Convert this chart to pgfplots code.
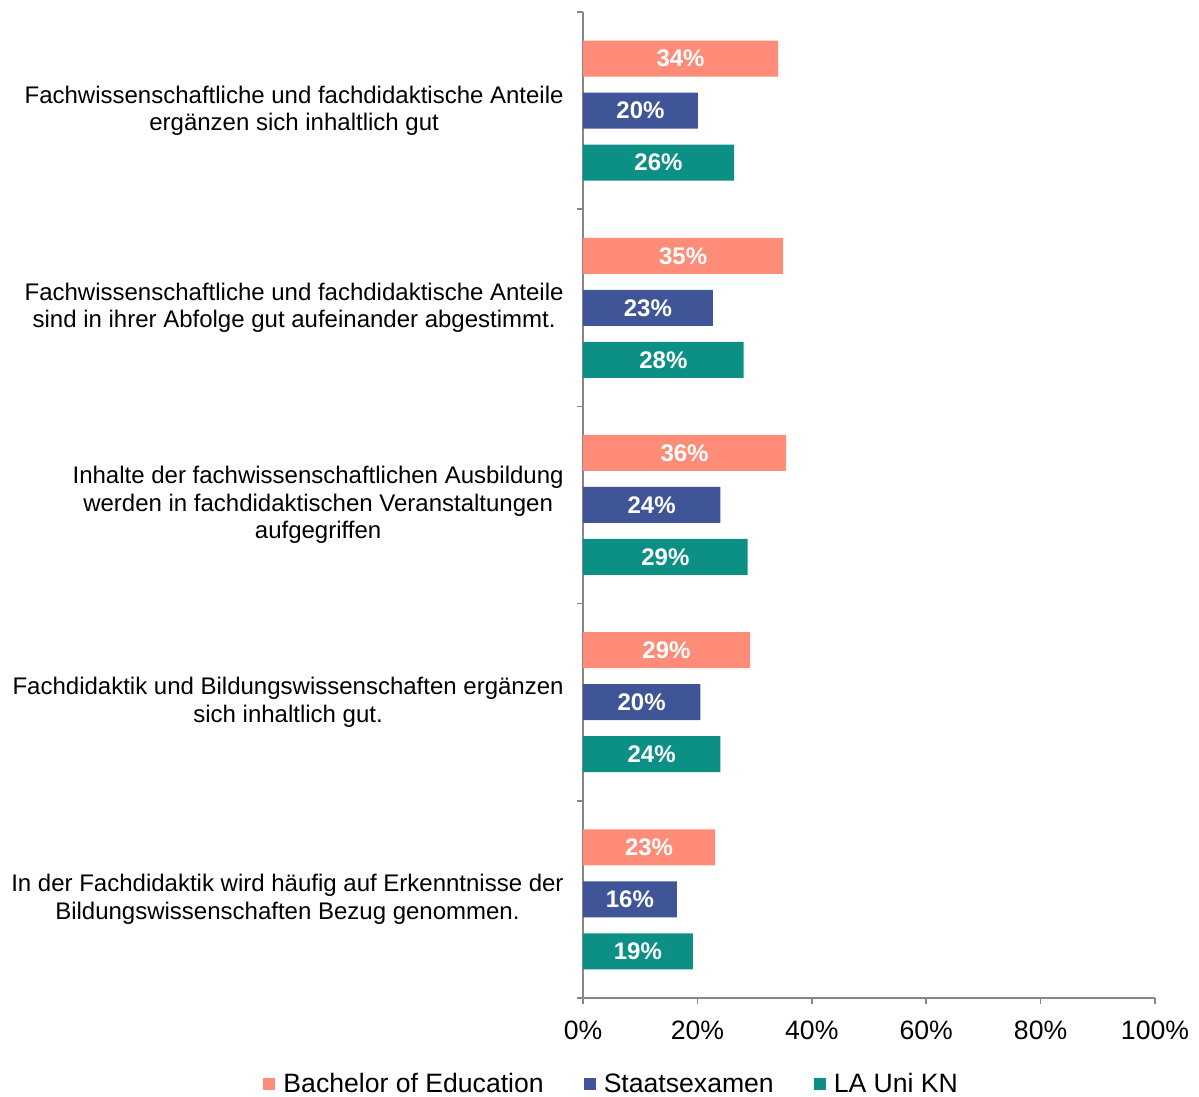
\documentclass[border=0pt]{standalone}
\usepackage{pgfplots}
\pgfplotsset{compat=1.18}
\usepackage{pgfplotstable}
\usepackage{fontspec}
\setmainfont{Liberation Sans}
\definecolor{cpink}{HTML}{FF8C78}
\definecolor{cblue}{HTML}{3F5597}
\definecolor{cteal}{HTML}{0C9085}
\definecolor{caxis}{HTML}{878787}

\pgfplotstableread{
y v lab
4 34.1 34
3 35.0 35
2 35.5 36
1 29.2 29
0 23.1 23
}\bachelor
\pgfplotstableread{
y v lab
4 20.1 20
3 22.7 23
2 24.0 24
1 20.5 20
0 16.4 16
}\staats
\pgfplotstableread{
y v lab
4 26.4 26
3 28.1 28
2 28.8 29
1 24.0 24
0 19.2 19
}\launi

\begin{document}
\begin{tikzpicture}
\useasboundingbox (-291.5pt,-49.5pt) rectangle (308pt,499pt);
\begin{axis}[
  at={(0,0)}, anchor=south west,
  scale only axis,
  width=286pt, height=493pt,
  xbar, bar width=18pt,
  xmin=0, xmax=100,
  ymin=-0.5, ymax=4.5,
  axis lines*=left,
  axis line style={caxis, line width=0.8pt},
  tick align=outside,
  tick style={caxis, line width=0.8pt},
  major tick length=3pt,
  xtick={0,20,...,100},
  xticklabels={0\%,20\%,40\%,60\%,80\%,100\%},
  xticklabel style={font=\fontsize{13.3}{16}\selectfont, yshift=-5pt},
  ytick={-0.5,0.5,1.5,2.5,3.5,4.5},
  yticklabels={},
  extra y ticks={0,1,2,3,4},
  extra y tick style={major tick length=0pt},
  extra y tick labels={
    {In der Fachdidaktik wird häufig auf Erkenntnisse der\\Bildungswissenschaften Bezug genommen.},
    {Fachdidaktik und Bildungswissenschaften ergänzen\\sich inhaltlich gut.},
    {Inhalte der fachwissenschaftlichen Ausbildung\\werden in fachdidaktischen Veranstaltungen\\aufgegriffen},
    {Fachwissenschaftliche und fachdidaktische Anteile\\sind in ihrer Abfolge gut aufeinander abgestimmt.},
    {Fachwissenschaftliche und fachdidaktische Anteile\\ergänzen sich inhaltlich gut}
  },
  yticklabel style={align=center, font=\fontsize{12}{13.7}\selectfont, inner sep=0pt, xshift=-9.5pt},
  point meta=explicit symbolic,
  nodes near coords={\pgfplotspointmeta\%},
  visualization depends on={\thisrow{v} \as \xv},
  every node near coord/.append style={anchor=center, text=white, font=\fontsize{12}{14}\selectfont\bfseries, xshift={-1.43pt*\xv}},
  legend style={at={(0.052,-0.0875)}, anchor=center, draw=none, fill=none,
    legend columns=3, font=\fontsize{13.3}{16}\selectfont,
    /tikz/every even column/.append style={column sep=18pt},
    legend cell align=left, inner sep=0pt},
]
\addplot[draw=none, fill=cpink, bar shift=26pt,
  legend image code/.code={\fill[cpink] (0pt,-3pt) rectangle (6pt,3pt); \path (8pt,0pt);}]
  table[x=v, y=y, meta=lab] {\bachelor};
\addplot[draw=none, fill=cblue, bar shift=0pt,
  legend image code/.code={\fill[cblue] (0pt,-3pt) rectangle (6pt,3pt); \path (8pt,0pt);}]
  table[x=v, y=y, meta=lab] {\staats};
\addplot[draw=none, fill=cteal, bar shift=-26pt,
  legend image code/.code={\fill[cteal] (0pt,-3pt) rectangle (6pt,3pt); \path (8pt,0pt);}]
  table[x=v, y=y, meta=lab] {\launi};
\legend{Bachelor of Education, Staatsexamen, LA Uni KN}
\end{axis}
\end{tikzpicture}
\end{document}
